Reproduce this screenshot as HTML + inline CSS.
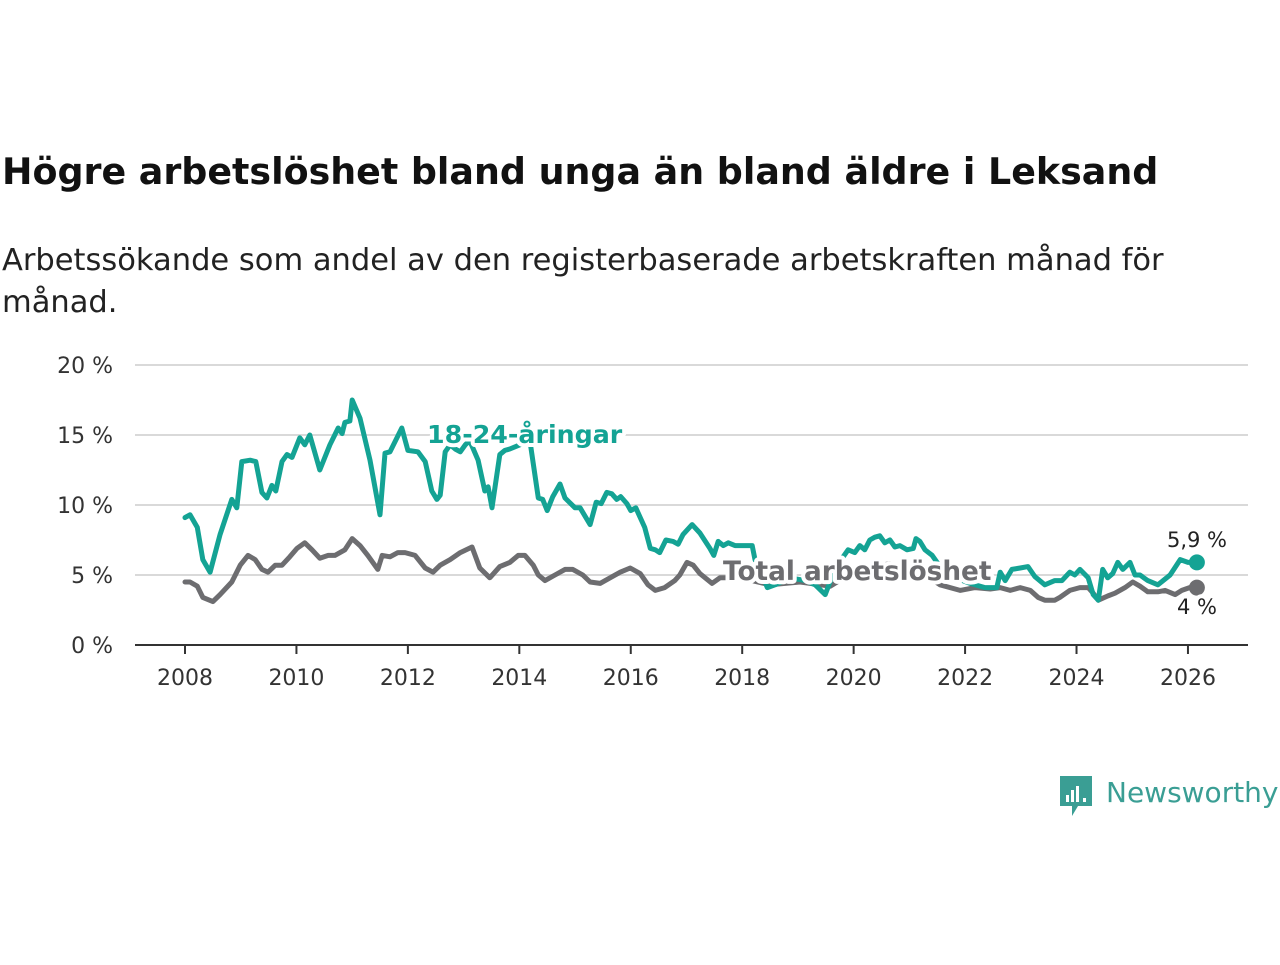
<!DOCTYPE html>
<html><head><meta charset="utf-8"><style>
body{margin:0;width:1280px;height:960px;background:#fff;font-family:"Liberation Sans","DejaVu Sans",sans-serif;overflow:hidden}
svg text{font-family:"DejaVu Sans","Liberation Sans",sans-serif}
</style></head><body>
<svg width="1280" height="960" viewBox="0 0 1280 960">
<text x="2" y="184" font-size="36.4" font-weight="bold" fill="#111">Högre arbetslöshet bland unga än bland äldre i Leksand</text>
<text x="2" y="270" font-size="30.5" fill="#222">Arbetssökande som andel av den registerbaserade arbetskraften månad för</text>
<text x="2" y="312" font-size="30.5" fill="#222">månad.</text>
<g id="grid"></g><g id="axes"></g><g id="lines"></g><g id="labels"></g>
<g>
<path d="M1060 776 h32 v30 h-14 l-6 10 v-10 h-12 z" fill="#3a9e94"/>
<rect x="1066" y="795" width="3" height="7" fill="#fff"/><rect x="1071" y="790" width="3" height="12" fill="#fff"/><rect x="1076" y="786" width="3" height="16" fill="#fff"/><rect x="1083" y="798" width="3" height="4" fill="#fff"/>
<text x="1106" y="802" font-size="28" fill="#3a9e94" font-family="Liberation Sans">Newsworthy</text>
</g>
</svg>
<script>
const youthDates=[2008.0,2008.09,2008.22,2008.32,2008.45,2008.63,2008.84,2008.93,2009.02,2009.17,2009.27,2009.38,2009.47,2009.56,2009.63,2009.74,2009.83,2009.92,2010.06,2010.15,2010.24,2010.42,2010.60,2010.75,2010.82,2010.87,2010.96,2011.00,2011.14,2011.32,2011.50,2011.59,2011.68,2011.89,2012.00,2012.18,2012.31,2012.43,2012.52,2012.58,2012.67,2012.76,2012.85,2012.94,2013.03,2013.11,2013.26,2013.38,2013.44,2013.51,2013.65,2013.74,2013.83,2014.01,2014.19,2014.34,2014.42,2014.50,2014.60,2014.73,2014.82,2015.00,2015.09,2015.27,2015.38,2015.47,2015.57,2015.66,2015.75,2015.82,2015.93,2016.00,2016.09,2016.25,2016.35,2016.44,2016.52,2016.63,2016.76,2016.85,2016.94,2017.10,2017.24,2017.42,2017.49,2017.57,2017.66,2017.75,2017.87,2018.05,2018.18,2018.23,2018.36,2018.45,2018.59,2018.86,2019.13,2019.31,2019.49,2019.67,2019.90,2020.02,2020.11,2020.20,2020.29,2020.38,2020.47,2020.56,2020.65,2020.74,2020.83,2020.96,2021.07,2021.12,2021.19,2021.28,2021.41,2021.55,2021.82,2022.09,2022.36,2022.57,2022.63,2022.72,2022.84,2022.99,2023.13,2023.25,2023.43,2023.61,2023.74,2023.88,2023.97,2024.06,2024.21,2024.30,2024.39,2024.47,2024.56,2024.65,2024.74,2024.83,2024.96,2025.05,2025.14,2025.28,2025.46,2025.68,2025.86,2026.00,2026.16];
const youthValues=[9.1,9.3,8.4,6.1,5.2,7.9,10.4,9.8,13.1,13.2,13.1,10.9,10.5,11.4,11,13.1,13.6,13.4,14.8,14.3,15,12.5,14.3,15.5,15.1,15.9,16,17.5,16.2,13.2,9.3,13.7,13.8,15.5,13.9,13.8,13.1,11,10.4,10.7,13.8,14.3,14,13.8,14.3,14.6,13.2,11,11.3,9.8,13.6,13.9,14,14.3,14.6,10.5,10.4,9.6,10.6,11.5,10.5,9.8,9.8,8.6,10.2,10.1,10.9,10.8,10.4,10.6,10.1,9.6,9.8,8.4,6.9,6.8,6.6,7.5,7.4,7.2,7.9,8.6,8,6.9,6.4,7.4,7.1,7.3,7.1,7.1,7.1,6.1,5,4.1,4.3,4.8,4.6,4.3,3.6,5.5,6.8,6.6,7.1,6.8,7.5,7.7,7.8,7.3,7.5,7,7.1,6.8,6.9,7.6,7.4,6.8,6.4,5.6,4.8,4.4,4.1,4.1,5.2,4.6,5.4,5.5,5.6,4.9,4.3,4.6,4.6,5.2,5,5.4,4.8,3.6,3.2,5.4,4.8,5.1,5.9,5.4,5.9,5,5,4.6,4.3,5,6.1,5.9,5.9];
const totalDates=[2008.0,2008.09,2008.22,2008.32,2008.50,2008.63,2008.84,2008.99,2009.13,2009.26,2009.38,2009.49,2009.62,2009.74,2009.88,2010.01,2010.15,2010.28,2010.42,2010.57,2010.69,2010.87,2011.00,2011.14,2011.28,2011.37,2011.46,2011.54,2011.68,2011.82,2011.95,2012.13,2012.31,2012.45,2012.58,2012.76,2012.94,2013.15,2013.29,2013.47,2013.65,2013.83,2013.98,2014.10,2014.25,2014.34,2014.46,2014.64,2014.82,2014.96,2015.14,2015.27,2015.45,2015.63,2015.81,2015.99,2016.17,2016.31,2016.44,2016.61,2016.79,2016.88,2017.01,2017.12,2017.24,2017.46,2017.60,2017.96,2018.50,2019.04,2019.58,2020.11,2020.65,2021.10,2021.55,2021.91,2022.18,2022.45,2022.63,2022.81,2022.99,2023.17,2023.31,2023.43,2023.61,2023.70,2023.88,2024.06,2024.21,2024.30,2024.39,2024.56,2024.69,2024.87,2025.01,2025.14,2025.28,2025.46,2025.59,2025.77,2025.89,2026.03,2026.16];
const totalValues=[4.5,4.5,4.2,3.4,3.1,3.6,4.5,5.7,6.4,6.1,5.4,5.2,5.7,5.7,6.3,6.9,7.3,6.8,6.2,6.4,6.4,6.8,7.6,7.1,6.4,5.9,5.4,6.4,6.3,6.6,6.6,6.4,5.5,5.2,5.7,6.1,6.6,7,5.5,4.8,5.6,5.9,6.4,6.4,5.7,5,4.6,5,5.4,5.4,5,4.5,4.4,4.8,5.2,5.5,5.1,4.3,3.9,4.1,4.6,5,5.9,5.7,5.1,4.4,4.8,4.8,4.3,4.5,4.2,5.5,5.8,5.5,4.3,3.9,4.1,4,4.1,3.9,4.1,3.9,3.4,3.2,3.2,3.4,3.9,4.1,4.1,3.7,3.2,3.5,3.7,4.1,4.5,4.2,3.8,3.8,3.9,3.6,3.9,4.1,4.1];
const yTicks=[0,5,10,15,20];
const yTickLabels=["0 %","5 %","10 %","15 %","20 %"];
const xTicks=[2008,2010,2012,2014,2016,2018,2020,2022,2024,2026];
const NS="http://www.w3.org/2000/svg";
const X=y=>185+(y-2008)*55.72;
const Y=v=>645-v*14;
function mk(tag,attrs,parent,text){const e=document.createElementNS(NS,tag);for(const k in attrs)e.setAttribute(k,attrs[k]);if(text!==undefined)e.textContent=text;document.getElementById(parent).appendChild(e);return e;}
yTicks.forEach((t,i)=>{
 if(t>0){const g=mk('line',{x1:135,x2:1248,y1:Y(t),y2:Y(t),stroke:'#d9d9d9','stroke-width':2},'grid');
 
 }
 const l=mk('text',{x:113,y:Y(t)+8,'font-size':22,fill:'#333','text-anchor':'end'},'axes',yTickLabels[i]);
 
 
});
const ax=mk('line',{x1:135,x2:1248,y1:645,y2:645,stroke:'#333','stroke-width':2},'axes');


xTicks.forEach(t=>{
 mk('line',{x1:X(t),x2:X(t),y1:645,y2:654,stroke:'#333','stroke-width':2},'axes');
 const l=mk('text',{x:X(t),y:685,'font-size':22,fill:'#333','text-anchor':'middle'},'axes',String(t));
 
 
});
function line(d,v,c,name){
 const p=mk('path',{d:d.map((t,i)=>(i?'L':'M')+X(t).toFixed(1)+' '+Y(v[i]).toFixed(1)).join(''),fill:'none',stroke:c,'stroke-width':5,'stroke-linejoin':'round','stroke-linecap':'round'},'lines');
 
 
 const n=d.length-1;
 const dot=mk('circle',{cx:X(d[n]),cy:Y(v[n]),r:8,fill:c},'lines');
 
 
}
line(totalDates,totalValues,'#6d6d70','total-line');
line(youthDates,youthValues,'#14a394','youth-line');
const halo={stroke:'#fff','stroke-width':8,'paint-order':'stroke','stroke-linejoin':'round'};
const l1=mk('text',Object.assign({x:427,y:443,'font-size':25.3,'font-weight':'bold',fill:'#14a394'},halo),'labels','18-24-åringar');


const l2=mk('text',Object.assign({x:723,y:580,'font-size':26.3,'font-weight':'bold',fill:'#6d6d70'},halo),'labels','Total arbetslöshet');


const v1=mk('text',Object.assign({x:1197,y:547,'font-size':21,fill:'#222','text-anchor':'middle'},halo),'labels',youthValues[youthValues.length-1].toString().replace('.',',')+' %');


const v2=mk('text',Object.assign({x:1197,y:614,'font-size':21,fill:'#222','text-anchor':'middle'},halo),'labels','4 %');


</script>
</body></html>
